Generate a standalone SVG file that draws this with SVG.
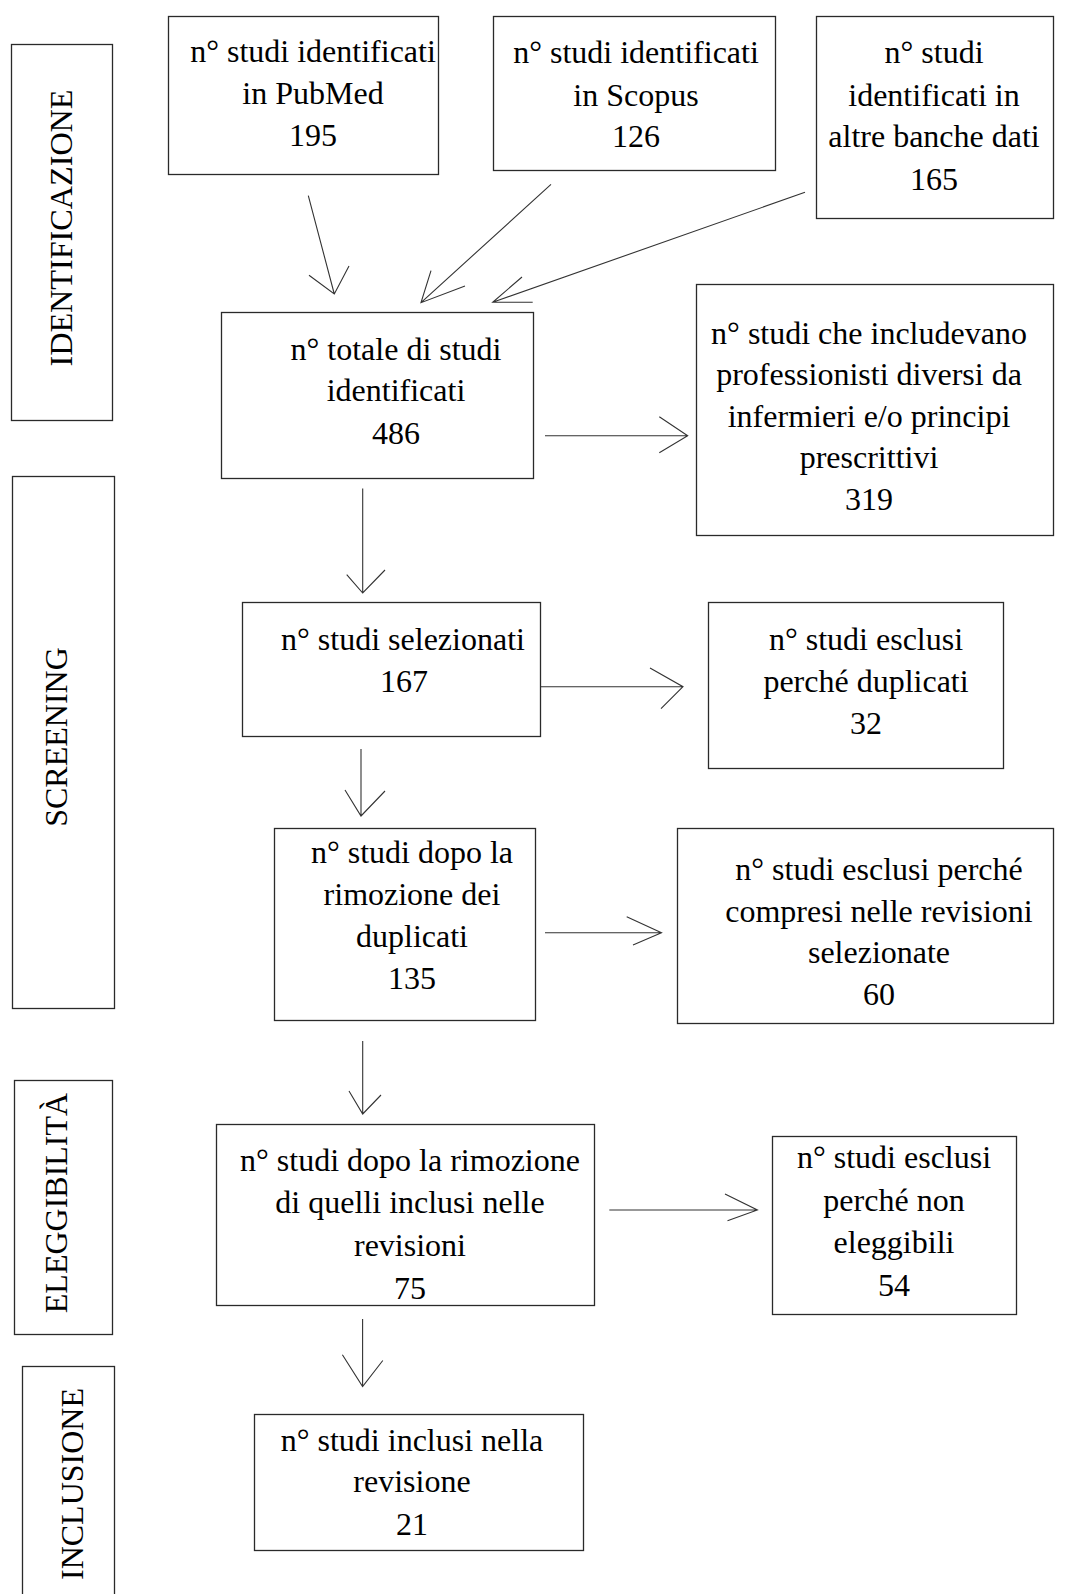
<svg xmlns="http://www.w3.org/2000/svg" width="1065" height="1594" viewBox="0 0 1065 1594">
<style>
.box{fill:#fff;stroke:#2a2a2a;stroke-width:1.3}
.lbl{fill:none;stroke:#2a2a2a;stroke-width:1.3}
.t{font-family:"Liberation Serif","Times New Roman",serif;font-size:32px;fill:#000;text-anchor:middle}
.c{fill:none;stroke:#333;stroke-width:1.1}
</style>
<rect width="1065" height="1594" fill="#fff"/>

<g id="phase-identificazione">
<rect class="lbl" x="11.5" y="44.5" width="101" height="376"/>
<text class="t" transform="translate(72,228) rotate(-90)" textLength="277" lengthAdjust="spacingAndGlyphs">IDENTIFICAZIONE</text>
</g>
<g id="phase-screening">
<rect class="lbl" x="12.5" y="476.5" width="102" height="532"/>
<text class="t" transform="translate(67,737) rotate(-90)">SCREENING</text>
</g>
<g id="phase-eleggibilita">
<rect class="lbl" x="14.5" y="1080.5" width="98" height="254"/>
<text class="t" transform="translate(67,1203) rotate(-90)">ELEGGIBILITÀ</text>
</g>
<g id="phase-inclusione">
<rect class="lbl" x="22.5" y="1366.5" width="92" height="240"/>
<text class="t" transform="translate(83,1484) rotate(-90)">INCLUSIONE</text>
</g>

<g id="n-pubmed">
<rect class="box" x="168.5" y="16.5" width="270" height="158"/>
<text class="t" x="313" y="62">n° studi identificati</text>
<text class="t" x="313" y="104">in PubMed</text>
<text class="t" x="313" y="146">195</text>
</g>
<g id="n-scopus">
<rect class="box" x="493.5" y="16.5" width="282" height="154"/>
<text class="t" x="636" y="63">n° studi identificati</text>
<text class="t" x="636" y="106">in Scopus</text>
<text class="t" x="636" y="147">126</text>
</g>
<g id="n-altre">
<rect class="box" x="816.5" y="16.5" width="237" height="202"/>
<text class="t" x="934" y="63">n° studi</text>
<text class="t" x="934" y="106">identificati in</text>
<text class="t" x="934" y="147">altre banche dati</text>
<text class="t" x="934" y="190">165</text>
</g>
<g id="n-totale">
<rect class="box" x="221.5" y="312.5" width="312" height="166"/>
<text class="t" x="396" y="360">n° totale di studi</text>
<text class="t" x="396" y="401">identificati</text>
<text class="t" x="396" y="444">486</text>
</g>
<g id="n-319">
<rect class="box" x="696.5" y="284.5" width="357" height="251"/>
<text class="t" x="869" y="344">n° studi che includevano</text>
<text class="t" x="869" y="385">professionisti diversi da</text>
<text class="t" x="869" y="427">infermieri e/o principi</text>
<text class="t" x="869" y="468">prescrittivi</text>
<text class="t" x="869" y="510">319</text>
</g>
<g id="n-167">
<rect class="box" x="242.5" y="602.5" width="298" height="134"/>
<text class="t" x="403" y="650">n° studi selezionati</text>
<text class="t" x="404" y="692">167</text>
</g>
<g id="n-32">
<rect class="box" x="708.5" y="602.5" width="295" height="166"/>
<text class="t" x="866" y="650">n° studi esclusi</text>
<text class="t" x="866" y="692">perché duplicati</text>
<text class="t" x="866" y="734">32</text>
</g>
<g id="n-135">
<rect class="box" x="274.5" y="828.5" width="261" height="192"/>
<text class="t" x="412" y="863">n° studi dopo la</text>
<text class="t" x="412" y="905">rimozione dei</text>
<text class="t" x="412" y="947">duplicati</text>
<text class="t" x="412" y="989">135</text>
</g>
<g id="n-60">
<rect class="box" x="677.5" y="828.5" width="376" height="195"/>
<text class="t" x="879" y="880">n° studi esclusi perché</text>
<text class="t" x="879" y="922">compresi nelle revisioni</text>
<text class="t" x="879" y="963">selezionate</text>
<text class="t" x="879" y="1005">60</text>
</g>
<g id="n-75">
<rect class="box" x="216.5" y="1124.5" width="378" height="181"/>
<text class="t" x="410" y="1171">n° studi dopo la rimozione</text>
<text class="t" x="410" y="1213">di quelli inclusi nelle</text>
<text class="t" x="410" y="1256">revisioni</text>
<text class="t" x="410" y="1299">75</text>
</g>
<g id="n-54">
<rect class="box" x="772.5" y="1136.5" width="244" height="178"/>
<text class="t" x="894" y="1168">n° studi esclusi</text>
<text class="t" x="894" y="1211">perché non</text>
<text class="t" x="894" y="1253">eleggibili</text>
<text class="t" x="894" y="1296">54</text>
</g>
<g id="n-21">
<rect class="box" x="254.5" y="1414.5" width="329" height="136"/>
<text class="t" x="412" y="1451">n° studi inclusi nella</text>
<text class="t" x="412" y="1492">revisione</text>
<text class="t" x="412" y="1535">21</text>
</g>

<g id="connectors">
<path class="c" d="M308.3,195.7 L334.3,294 M309,275.3 L334.3,294 L349,266"/>
<path class="c" d="M551,184.3 L421,302.7 M431,270.7 L421,302.7 L465,286"/>
<path class="c" d="M805,192.3 L492.7,302.3 M522,277 L492.7,302.3 L532.7,302.3"/>
<path class="c" d="M545,435.7 L687.7,435.7 M659.3,416.7 L687.7,435.7 L659.3,452.7"/>
<path class="c" d="M362.7,488.6 L362.7,593 M346.7,574.7 L362.7,593 L385,570"/>
<path class="c" d="M541,686.7 L683,686.7 M650,668 L683,686.7 L661,708.7"/>
<path class="c" d="M361,749 L361,816 M345,790 L361,816 L385,791"/>
<path class="c" d="M545,932.7 L661.5,932.7 M626.7,916.7 L661.5,932.7 L633,945"/>
<path class="c" d="M362.7,1041 L362.7,1114 M349,1091 L362.7,1114 L381,1095"/>
<path class="c" d="M609.3,1210 L757.4,1210 M725,1194 L757.4,1210 L727.5,1220.7"/>
<path class="c" d="M362.6,1319 L362.6,1386.6 M342.4,1354.7 L362.6,1386.6 L382.8,1360.5"/>
</g>
</svg>
